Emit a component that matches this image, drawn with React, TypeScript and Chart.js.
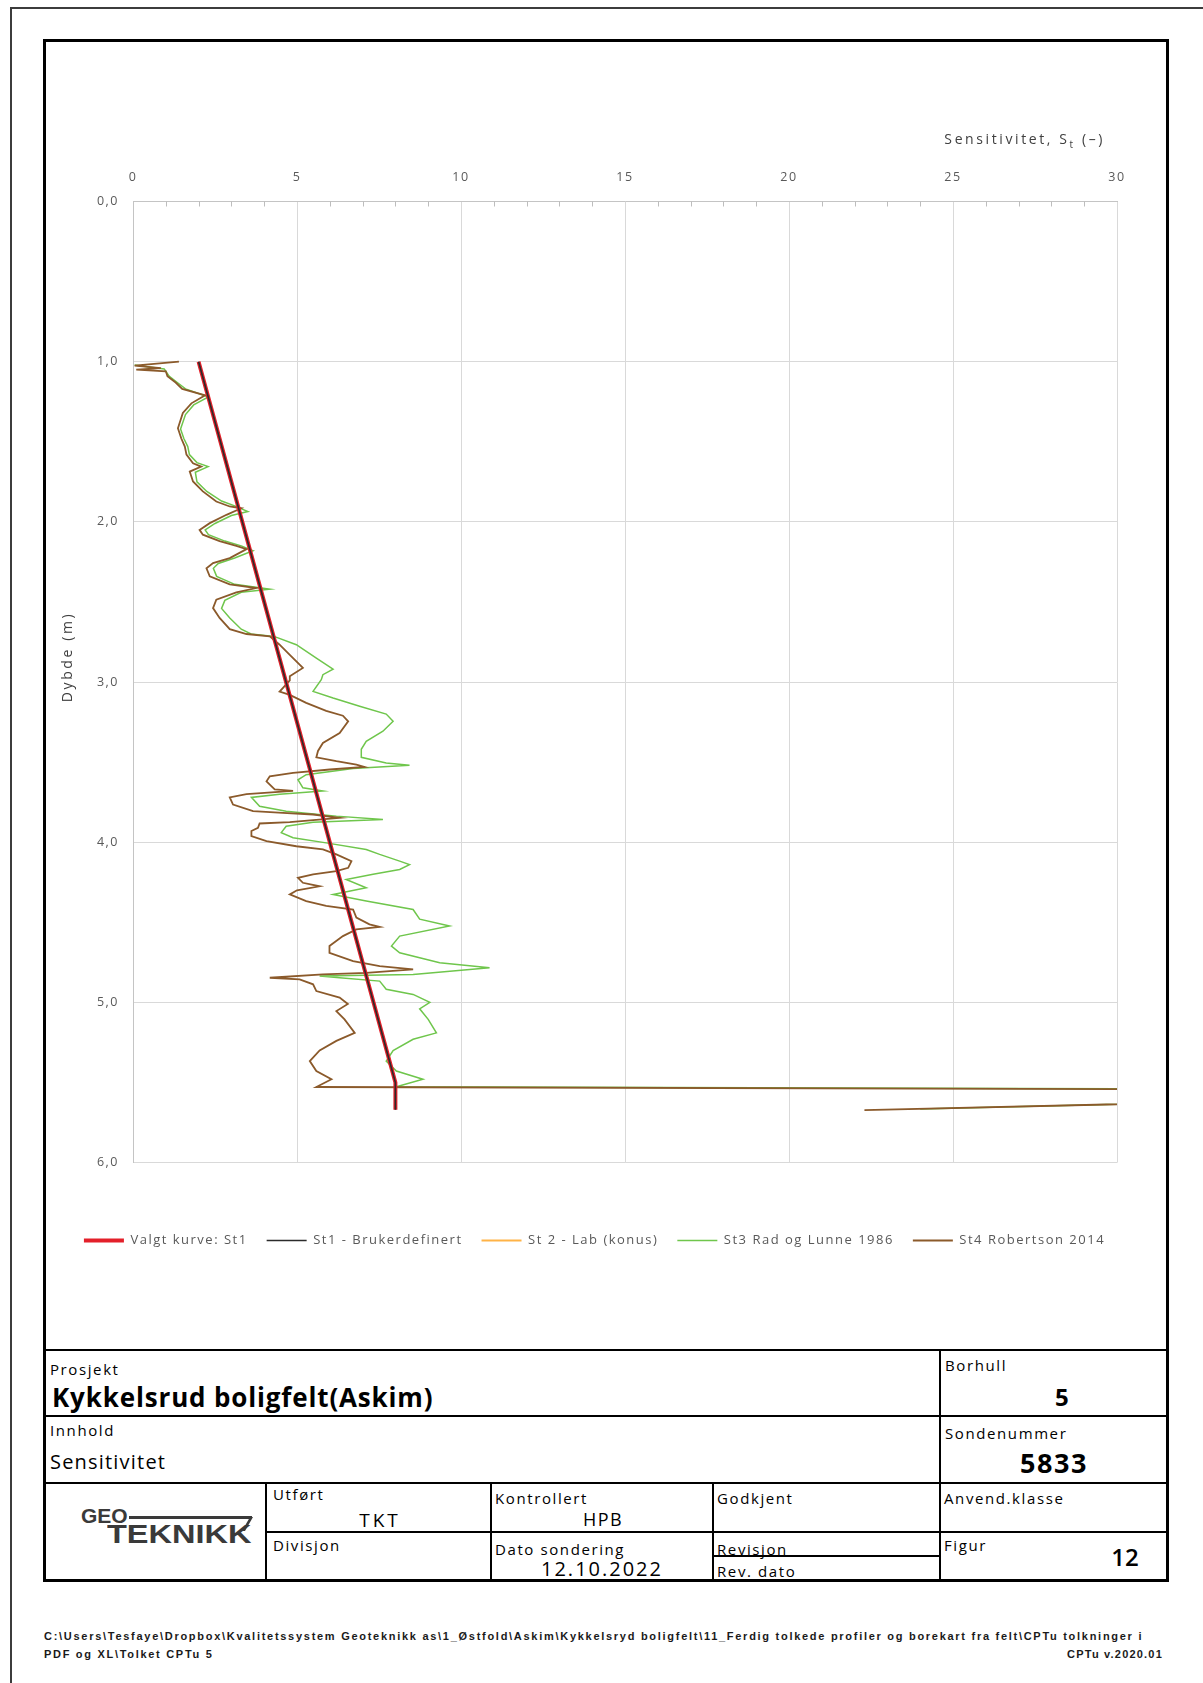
import React, { useEffect, useRef } from 'react';
import { Chart, registerables } from 'chart.js';

Chart.register(...registerables);

// ---------- data ----------
const sensitivityTicks = [0, 5, 10, 15, 20, 25, 30];
const depthTicks = [0, 1, 2, 3, 4, 5, 6];
const minorTickStep = 1;

const seriesLabels = [
  'Valgt kurve: St1',
  'St1 - Brukerdefinert',
  'St 2 - Lab (konus)',
  'St3 Rad og Lunne 1986',
  'St4 Robertson 2014',
];

// Valgt kurve (= St1 Brukerdefinert)
const valgtDepth = [1.0, 5.5, 5.67];
const valgtValues = [2.0, 8.0, 8.0];

const st1Depth = [1.0, 5.5, 5.67];
const st1Values = [2.0, 8.0, 8.0];

// St2 Lab (konus): no values
const st2Depth: number[] = [];
const st2Values: number[] = [];

// St3 Rad og Lunne 1986
const st3Depth = [
  1.02, 1.045, 1.06, 1.09, 1.13, 1.17, 1.22, 1.27, 1.33, 1.42, 1.48, 1.53, 1.58, 1.63, 1.655,
  1.69, 1.75, 1.81, 1.87, 1.9, 1.935, 1.96, 2.01, 2.05, 2.08, 2.12, 2.15, 2.18, 2.226, 2.26,
  2.29, 2.34, 2.39, 2.42, 2.44, 2.49, 2.54, 2.6, 2.67, 2.7, 2.715, 2.767, 2.85, 2.92, 2.954,
  2.985, 3.058, 3.1, 3.151, 3.2, 3.245, 3.307, 3.37, 3.42, 3.47, 3.505, 3.52, 3.54, 3.578, 3.61,
  3.66, 3.68, 3.7, 3.72, 3.775, 3.806, 3.837, 3.858, 3.875, 3.9, 3.94, 3.972, 4.004, 4.045,
  4.076, 4.118, 4.14, 4.17, 4.2, 4.232, 4.284, 4.326, 4.367, 4.42, 4.48, 4.523, 4.586, 4.648,
  4.69, 4.752, 4.783, 4.825, 4.835, 4.846, 4.867, 4.918, 4.95, 5.0, 5.04, 5.106, 5.19, 5.23,
  5.3, 5.366, 5.428, 5.48, 5.526, 5.548, 5.562, 5.665,
];
const st3Values = [
  0.05, 0.95, 1.0, 1.1, 1.35, 1.6, 2.3, 1.85, 1.6, 1.45, 1.55, 1.67, 1.72, 1.95, 2.29,
  1.9, 1.95, 2.25, 2.7, 3.1, 3.5, 3.0, 2.5, 2.2, 2.3, 2.8, 3.3, 3.66, 3.1, 2.6,
  2.45, 2.55, 3.1, 4.17, 3.3, 2.8, 2.7, 2.95, 3.3, 3.6, 4.3, 4.98, 5.59, 6.1, 5.79,
  5.74, 5.49, 6.1, 6.91, 7.72, 7.93, 7.62, 7.11, 6.96, 6.96, 7.72, 8.43, 6.71, 5.28, 5.03,
  5.18, 5.79, 4.47, 3.61, 3.86, 4.67, 6.2, 7.62, 5.49, 4.67, 4.52, 4.88, 5.89, 7.11,
  7.52, 8.13, 8.43, 8.13, 7.32, 6.5, 7.11, 6.1, 7.11, 8.54, 8.74, 9.65, 8.13, 7.88,
  8.13, 9.35, 10.87, 8.54, 5.69, 6.3, 7.52, 7.72, 8.54, 9.05, 8.74, 9.0, 9.25, 8.54,
  7.93, 7.72, 8.03, 8.84, 8.03, 45, 45, 24.0,
];

// St4 Robertson 2014
const st4Depth = [
  1.0, 1.025, 1.04, 1.05, 1.06, 1.09, 1.13, 1.17, 1.21, 1.26, 1.32, 1.415, 1.478, 1.53, 1.58,
  1.634, 1.655, 1.686, 1.748, 1.81, 1.873, 1.904, 1.915, 1.956, 2.008, 2.05, 2.08, 2.12, 2.15,
  2.17, 2.226, 2.257, 2.29, 2.34, 2.39, 2.413, 2.44, 2.486, 2.538, 2.6, 2.67, 2.7, 2.715, 2.767,
  2.83, 2.912, 2.964, 2.99, 3.06, 3.08, 3.13, 3.18, 3.21, 3.245, 3.318, 3.38, 3.43, 3.47, 3.494,
  3.515, 3.53, 3.546, 3.567, 3.588, 3.62, 3.67, 3.68, 3.7, 3.72, 3.765, 3.806, 3.817, 3.827,
  3.848, 3.875, 3.883, 3.91, 3.93, 3.962, 3.993, 4.025, 4.045, 4.076, 4.118, 4.16, 4.18, 4.2,
  4.222, 4.253, 4.275, 4.3, 4.326, 4.367, 4.398, 4.42, 4.47, 4.513, 4.528, 4.544, 4.586, 4.648,
  4.69, 4.742, 4.773, 4.794, 4.815, 4.825, 4.846, 4.856, 4.887, 4.929, 4.97, 5.01, 5.054, 5.106,
  5.19, 5.24, 5.3, 5.366, 5.428, 5.48, 5.528, 5.55, 5.565, 5.672,
];
const st4Values = [
  1.4, 0.05, 0.85, 0.1, 1.0, 1.05, 1.3, 1.5, 2.2, 1.78, 1.52, 1.37, 1.47, 1.58, 1.63,
  1.83, 2.08, 1.73, 1.83, 2.13, 2.54, 2.95, 3.3, 2.85, 2.34, 2.03, 2.13, 2.64, 3.15,
  3.46, 2.95, 2.44, 2.24, 2.34, 2.95, 3.76, 3.15, 2.54, 2.44, 2.64, 2.95, 3.46, 4.17, 4.47,
  4.78, 5.18, 4.78, 4.78, 4.47, 4.78, 5.28, 5.89, 6.4, 6.56, 6.3, 5.79, 5.64, 5.59, 6.2,
  6.81, 7.06, 6.0, 4.88, 4.17, 4.07, 4.32, 4.88, 3.46, 2.95, 3.05, 3.66, 4.57, 5.49,
  6.3, 4.78, 3.86, 3.81, 3.61, 3.61, 4.07, 4.98, 5.79, 6.2, 6.66, 6.56, 6.2, 5.49,
  5.03, 5.18, 5.69, 5.0, 4.78, 5.28, 5.89, 6.71, 6.81, 7.21, 7.52, 6.81, 6.4, 5.99,
  5.99, 6.71, 7.52, 8.54, 7.11, 5.79, 4.17, 5.08, 5.49, 5.59, 6.3, 6.55, 6.2, 6.45,
  6.76, 6.2, 5.69, 5.39, 5.59, 6.05, 5.59, 45, 45, 22.3,
];

const pts = (depth: number[], vals: number[]) => depth.map((d, i) => ({ x: vals[i], y: d }));

const minorTicksPlugin = {
  id: 'minorTicks',
  beforeDatasetsDraw(chart: any) {
    const s = chart.scales.x;
    const { ctx, chartArea } = chart;
    ctx.save();
    ctx.strokeStyle = '#bdbdbd';
    ctx.lineWidth = 1;
    for (let v = s.min; v <= s.max; v += minorTickStep) {
      if (sensitivityTicks.includes(v)) continue;
      const px = Math.round(s.getPixelForValue(v)) + 0.5;
      ctx.beginPath();
      ctx.moveTo(px, chartArea.top);
      ctx.lineTo(px, chartArea.top + 5);
      ctx.stroke();
    }
    ctx.restore();
  },
};

const LETTER_SPACING = '1.5px';
const spacingPlugin = {
  id: 'letterSpacing',
  beforeUpdate(chart: any) { chart.ctx.letterSpacing = LETTER_SPACING; },
  beforeDraw(chart: any) { chart.ctx.letterSpacing = LETTER_SPACING; },
};

const tickFont = { family: "'Open Sans', 'DejaVu Sans', sans-serif", size: 12.5 };

function SensChart() {
  const ref = useRef<HTMLCanvasElement>(null);
  useEffect(() => {
    if (!ref.current) return;
    const chart = new Chart(ref.current, {
      type: 'scatter',
      data: {
        datasets: [
          { label: seriesLabels[0], data: pts(valgtDepth, valgtValues), borderColor: '#e3202a', backgroundColor: '#e3202a', borderWidth: 4, showLine: true, pointRadius: 0, order: 1 },
          { label: seriesLabels[1], data: pts(st1Depth, st1Values), borderColor: '#2b2b2b', backgroundColor: '#2b2b2b', borderWidth: 1.6, showLine: true, pointRadius: 0, order: 0 },
          { label: seriesLabels[2], data: pts(st2Depth, st2Values), borderColor: '#ffb347', backgroundColor: '#ffb347', borderWidth: 2, showLine: true, pointRadius: 0, order: 4 },
          { label: seriesLabels[3], data: pts(st3Depth, st3Values), borderColor: '#6fc64c', backgroundColor: '#6fc64c', borderWidth: 1.5, showLine: true, pointRadius: 0, order: 3 },
          { label: seriesLabels[4], data: pts(st4Depth, st4Values), borderColor: '#8b5a2b', backgroundColor: '#8b5a2b', borderWidth: 1.8, showLine: true, pointRadius: 0, order: 2 },
        ],
      },
      options: {
        animation: false,
        responsive: false,
        maintainAspectRatio: false,
        events: [],
        layout: { padding: { left: 14, right: 37, top: 0, bottom: 0 } },
        scales: {
          x: {
            type: 'linear',
            position: 'top',
            min: 0,
            max: 30,
            afterBuildTicks: (s: any) => { s.ticks = sensitivityTicks.map((v) => ({ value: v })); },
            afterFit: (s: any) => { s.height = 157.5; },
            ticks: { color: '#595959', font: tickFont, padding: 17, maxRotation: 0, autoSkip: false },
            grid: { color: '#d9d9d9', drawTicks: false, lineWidth: 1 },
            border: { color: '#c4c4c4' },
          },
          y: {
            type: 'linear',
            reverse: true,
            min: 0,
            max: 6,
            afterBuildTicks: (s: any) => { s.ticks = depthTicks.map((v) => ({ value: v })); },
            afterFit: (s: any) => { s.width = 73; },
            ticks: {
              color: '#595959',
              font: tickFont,
              padding: 14,
              autoSkip: false,
              callback: (v: any) => Number(v).toFixed(1).replace('.', ','),
            },
            grid: { color: '#d9d9d9', drawTicks: false, lineWidth: 1 },
            border: { color: '#c4c4c4' },
          },
          spacer: {
            type: 'linear',
            position: 'right',
            display: true,
            afterFit: (s: any) => { s.width = 12; },
            ticks: { display: false },
            grid: { display: false, drawTicks: false },
            border: { display: false },
          },
        },
        plugins: {
          tooltip: { enabled: false },
          legend: {
            position: 'bottom',
            align: 'center',
            title: { display: true, text: '', padding: { top: 38, bottom: 0 } },
            labels: {
              usePointStyle: true,
              pointStyle: 'line',
              pointStyleWidth: 40,
              color: '#595959',
              font: { family: "'Open Sans', 'DejaVu Sans', sans-serif", size: 13 },
              padding: 19,
              sort: (a: any, b: any) => a.datasetIndex - b.datasetIndex,
            },
          },
        },
      } as any,
      plugins: [spacingPlugin, minorTicksPlugin],
    });
    return () => chart.destroy();
  }, []);
  return (
    <canvas
      ref={ref}
      width={1120}
      height={1213}
      style={{ position: 'absolute', left: 46, top: 44, width: 1120, height: 1213 }}
    />
  );
}

const FF = "'Open Sans', 'Liberation Sans', sans-serif";
const LS = 1.6;

function T(props: { x: number; y: number; size: number; bold?: boolean; center?: boolean; right?: boolean; children: React.ReactNode; color?: string; ls?: number; weight?: number; family?: string; sx?: number }) {
  const { x, y, size, bold, center, right, children, color, ls, weight, family, sx } = props;
  const style: React.CSSProperties = {
    position: 'absolute',
    top: y - size * 0.6,
    lineHeight: `${size * 1.2}px`,
    fontSize: size,
    fontFamily: family || FF,
    fontWeight: weight || (bold ? 700 : 400),
    color: color || '#000',
    whiteSpace: 'nowrap',
    letterSpacing: ls ? `${ls}px` : undefined,
  };
  if (sx) {
    style.transform = `scaleX(${sx})`;
    style.transformOrigin = 'left center';
  }
  if (center) {
    style.left = x - 200;
    style.width = 400;
    style.textAlign = 'center';
  } else if (right) {
    style.left = x - 800;
    style.width = 800;
    style.textAlign = 'right';
  } else {
    style.left = x;
  }
  return <div style={style}>{children}</div>;
}

function HL({ x1, x2, y, w = 2 }: { x1: number; x2: number; y: number; w?: number }) {
  return <div style={{ position: 'absolute', left: x1, top: y - w / 2, width: x2 - x1, height: w, background: '#000' }} />;
}
function VL({ y1, y2, x, w = 2 }: { y1: number; y2: number; x: number; w?: number }) {
  return <div style={{ position: 'absolute', left: x - w / 2, top: y1, width: w, height: y2 - y1, background: '#000' }} />;
}

export default function App() {
  const L = 45;
  const R = 1167;
  return (
    <div style={{ position: 'fixed', left: 0, top: 0, width: 1203, height: 1683, overflow: 'hidden', background: '#fff' }}>
      {/* outer thin frame */}
      <div style={{ position: 'absolute', left: 10, top: 7, width: 1260, height: 1760, border: '2px solid #3c3c3c', boxSizing: 'border-box' }} />
      {/* inner thick frame */}
      <div style={{ position: 'absolute', left: 43, top: 39, width: 1126, height: 1543, border: '3px solid #000', boxSizing: 'border-box' }} />

      <SensChart />

      {/* axis titles */}
      <T x={1105} y={139} size={14} right color="#404040" ls={2.6}>
        Sensitivitet, S<sub style={{ fontSize: 10 }}>t</sub> (–)
      </T>
      <div
        style={{
          position: 'absolute',
          left: 67 - 70,
          top: 657 - 10,
          width: 140,
          height: 20,
          lineHeight: '20px',
          textAlign: 'center',
          transform: 'rotate(-90deg)',
          fontFamily: FF,
          fontSize: 14,
          letterSpacing: '2.6px',
          color: '#404040',
          whiteSpace: 'nowrap',
        }}
      >
        Dybde (m)
      </div>

      {/* title block lines */}
      <HL x1={L} x2={R} y={1350} />
      <HL x1={L} x2={R} y={1416} />
      <HL x1={L} x2={R} y={1483} />
      <HL x1={266} x2={R} y={1532} />
      <HL x1={713} x2={940} y={1556} />
      <VL x={940} y1={1350} y2={1580} />
      <VL x={266} y1={1483} y2={1580} />
      <VL x={491} y1={1483} y2={1580} />
      <VL x={713} y1={1483} y2={1580} />

      {/* title block texts */}
      <T x={50} y={1369} size={15} ls={LS}>Prosjekt</T>
      <T x={52} y={1398} size={26} weight={700} ls={0.85}>Kykkelsrud boligfelt(Askim)</T>
      <T x={50} y={1430} size={15} ls={LS}>Innhold</T>
      <T x={50} y={1462} size={20} ls={1.2}>Sensitivitet</T>
      <T x={945} y={1365} size={15} ls={LS}>Borhull</T>
      <T x={1055} y={1397} size={24} weight={700}>5</T>
      <T x={945} y={1433} size={15} ls={LS}>Sondenummer</T>
      <T x={1054} y={1463} size={27} center weight={700} ls={1.5}>5833</T>
      <T x={273} y={1494} size={15} ls={LS}>Utført</T>
      <T x={380} y={1520} size={19} center ls={3}>TKT</T>
      <T x={495} y={1498} size={15} ls={LS}>Kontrollert</T>
      <T x={603} y={1520} size={18} center ls={1.5}>HPB</T>
      <T x={717} y={1498} size={15} ls={LS}>Godkjent</T>
      <T x={944} y={1498} size={15} ls={LS}>Anvend.klasse</T>
      <T x={273} y={1545} size={15} ls={LS}>Divisjon</T>
      <T x={495} y={1549} size={15} ls={LS}>Dato sondering</T>
      <T x={602} y={1569} size={20} center ls={2}>12.10.2022</T>
      <T x={717} y={1549} size={15} ls={LS}>Revisjon</T>
      <T x={717} y={1571} size={15} ls={LS}>Rev. dato</T>
      <T x={944} y={1545} size={15} ls={LS}>Figur</T>
      <T x={1125} y={1557} size={24} center weight={600}>12</T>

      {/* logo */}
      <T x={81} y={1516} size={21} weight={800} color="#3a3a3a" family="'Liberation Sans', sans-serif">GEO</T>
      <T x={107} y={1534} size={25} weight={800} color="#3a3a3a" family="'Liberation Sans', sans-serif" sx={1.3}>TEKNIKK</T>
      <div style={{ position: 'absolute', left: 129, top: 1516, width: 123, height: 3, background: '#3a3a3a' }} />
      <div style={{ position: 'absolute', left: 246, top: 1517, width: 3, height: 14, background: '#3a3a3a', transform: 'skewX(-30deg)' }} />

      {/* footer */}
      <T x={44} y={1637} size={11} weight={700} ls={1.72} family="'Liberation Sans', sans-serif" color="#1a1a1a">
        C:\Users\Tesfaye\Dropbox\Kvalitetssystem Geoteknikk as\1_Østfold\Askim\Kykkelsryd boligfelt\11_Ferdig tolkede profiler og borekart fra felt\CPTu tolkninger i
      </T>
      <T x={44} y={1655} size={11} weight={700} ls={1.7} family="'Liberation Sans', sans-serif" color="#1a1a1a">
        PDF og XL\Tolket CPTu 5
      </T>
      <T x={1163} y={1655} size={11} weight={700} ls={1.2} right family="'Liberation Sans', sans-serif" color="#1a1a1a">
        CPTu v.2020.01
      </T>
    </div>
  );
}
